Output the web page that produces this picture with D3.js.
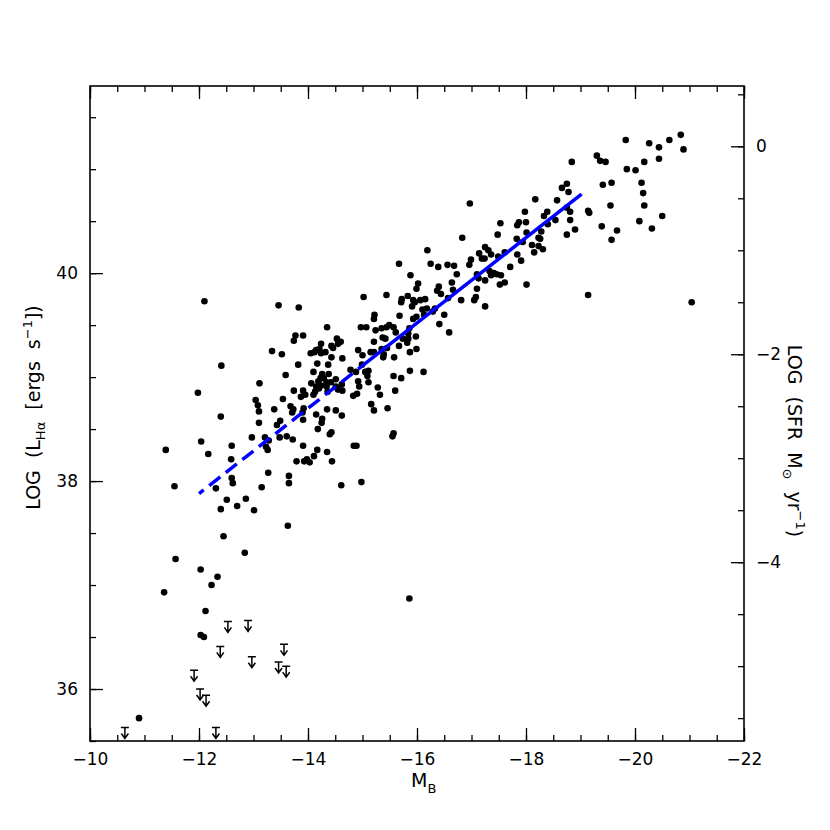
<!DOCTYPE html>
<html>
<head>
<meta charset="utf-8">
<script src="https://cdn.jsdelivr.net/npm/d3@7"></script>
<style>
    body { margin: 0; background: #fff; }
    #chart { width: 830px; height: 830px; }
    .axis text { font-family: "DejaVu Sans", sans-serif; font-size: 17px; fill: #000; }
    .axis line { stroke: #000; stroke-width: 1.3px; }
    .axis path { display: none; }
    .title { font-family: "DejaVu Sans", sans-serif; font-size: 19px; fill: #000; }
</style>
</head>
<body>
<div id="chart"></div>
<script>

// absolute B magnitude of each galaxy
const magB = [
    -19.83, -20.26, -20.44, -20.63, -20.84, -20.89, -20.44, -20.17, -19.85, -20.01,
    -19.30, -19.36, -19.46, -18.84, -20.12, -20.15, -20.17, -20.50, -20.08, -20.31,
    -19.57, -19.41, -19.55, -19.14, -19.16, -19.39, -19.67, -19.57, -18.75, -18.66,
    -18.78, -18.81, -18.81, -18.90, -18.75, -19.14, -21.04, -18.75, -18.57, -18.17,
    -16.97, -18.39, -18.33, -18.54, -18.40, -17.98, -18.00, -17.87, -17.84, -17.53,
    -18.28, -18.23, -18.26, -18.01, -17.83, -17.94, -17.48, -16.83, -18.11, -18.23,
    -18.31, -18.15, -17.84, -17.91, -17.61, -17.49, -17.25, -17.31, -17.36, -17.14,
    -17.19, -17.24, -16.99, -16.96, -17.71, -16.19, -16.25, -16.39, -16.56, -16.68,
    -16.73, -17.10, -17.13, -17.33, -17.36, -17.41, -17.46, -17.54, -17.25, -17.61,
    -17.52, -18.01, -17.10, -16.64, -16.66, -16.40, -16.37, -16.44, -16.57, -16.81,
    -17.08, -17.05, -17.25, -16.15, -16.18, -16.33, -16.29, -16.50, -16.41, -16.02,
    -15.99, -15.67, -15.88, -15.44, -15.02, -15.83, -15.72, -15.71, -15.93, -15.96,
    -16.06, -15.91, -16.10, -16.13, -16.59, -15.68, -15.93, -15.99, -15.22, -15.21,
    -15.49, -15.44, -15.57, -15.61, -15.35, -15.24, -14.97, -15.07, -14.35, -15.86,
    -15.84, -15.98, -15.84, -15.74, -15.82, -15.99, -15.87, -15.67, -15.58, -15.21,
    -15.37, -15.42, -15.45, -15.35, -15.21, -15.15, -15.38, -15.39, -14.92, -15.00,
    -14.53, -14.60, -14.55, -14.43, -14.46, -13.77, -13.91, -13.74, -13.46, -13.83,
    -13.34, -13.52, -14.24, -14.21, -14.15, -14.05, -14.12, -14.32, -14.24, -14.43,
    -14.63, -13.82, -14.17, -14.37, -13.59, -14.10, -14.26, -14.23, -14.38, -14.29,
    -14.42, -14.51, -14.19, -14.34, -14.06, -14.15, -14.24, -14.34, -14.20, -14.36,
    -14.13, -14.10, -14.51, -14.62, -14.55, -14.63, -14.78, -14.88, -14.99, -15.05,
    -15.11, -15.09, -15.11, -14.92, -14.94, -14.90, -14.83, -15.32, -15.16, -15.21,
    -15.46, -15.57, -15.71, -15.87, -16.12, -15.60, -13.74, -13.91, -13.95, -13.87,
    -13.54, -13.11, -13.04, -13.08, -13.10, -13.38, -13.68, -13.73, -13.71, -13.92,
    -13.90, -14.15, -14.26, -14.35, -14.51, -14.62, -13.10, -13.43, -13.49, -13.91,
    -14.25, -14.18, -15.28, -15.57, -15.55, -14.84, -14.89, -14.44, -14.61, -14.98,
    -14.40, -14.43, -11.98, -12.40, -12.04, -11.39, -12.17, -12.60, -12.59, -11.55,
    -12.31, -12.60, -12.62, -12.51, -12.40, -12.70, -12.86, -13.01, -13.15, -13.27,
    -12.97, -13.21, -13.28, -13.23, -13.26, -13.48, -13.61, -13.72, -13.91, -13.79,
    -13.93, -13.98, -14.03, -14.11, -14.17, -14.35, -13.65, -13.65, -13.63, -12.45,
    -12.84, -11.57, -12.03, -12.34, -12.10, -12.41, -12.23, -11.36, -12.12, -12.03,
    -12.09, -10.90, -15.86
];

// log H-alpha luminosity (ergs/s), same order as magB
const logLha = [
    41.28, 41.25, 41.21, 41.28, 41.33, 41.19, 41.10, 41.07, 41.00, 40.99,
    41.13, 41.08, 41.07, 41.07, 40.87, 40.77, 40.65, 40.55, 40.50, 40.43,
    40.87, 40.85, 40.65, 40.60, 40.58, 40.45, 40.41, 40.32, 40.86, 40.82,
    40.78, 40.59, 40.51, 40.42, 40.37, 39.79, 39.72, 40.63, 40.70, 40.71,
    40.67, 40.59, 40.55, 40.51, 40.47, 40.59, 40.49, 40.49, 40.46, 40.48,
    40.40, 40.34, 40.33, 40.39, 40.33, 40.30, 40.37, 40.34, 40.27, 40.26,
    40.23, 40.20, 40.18, 40.12, 40.20, 40.16, 40.25, 40.22, 40.18, 40.19,
    40.14, 40.14, 40.13, 40.08, 40.06, 40.22, 40.09, 40.06, 40.08, 40.07,
    39.99, 39.99, 39.95, 40.02, 39.98, 40.00, 39.99, 39.98, 39.93, 39.91,
    39.89, 39.89, 39.85, 39.91, 39.84, 39.87, 39.83, 39.80, 39.76, 39.74,
    39.77, 39.74, 39.68, 39.75, 39.66, 39.66, 39.63, 39.60, 39.51, 39.90,
    39.85, 40.09, 39.98, 39.79, 39.77, 39.78, 39.75, 39.72, 39.74, 39.72,
    39.74, 39.68, 39.65, 39.60, 39.43, 39.59, 39.56, 39.58, 39.60, 39.56,
    39.50, 39.48, 39.48, 39.43, 39.47, 39.45, 39.48, 39.48, 39.48, 39.47,
    39.42, 39.39, 39.37, 39.37, 39.33, 39.27, 39.24, 39.30, 39.19, 39.34,
    39.38, 39.37, 39.28, 39.27, 39.24, 39.24, 39.19, 39.22, 39.26, 39.21,
    39.37, 39.34, 39.32, 39.30, 39.28, 39.40, 39.40, 39.35, 39.69, 39.67,
    39.25, 39.22, 39.32, 39.27, 39.26, 39.23, 39.24, 39.24, 39.23, 39.19,
    39.18, 39.12, 39.13, 39.12, 39.02, 39.05, 39.03, 38.99, 39.03, 38.99,
    38.95, 38.98, 38.96, 38.95, 38.94, 38.91, 38.92, 38.91, 38.89, 38.86,
    38.86, 38.83, 38.91, 38.93, 38.88, 38.87, 39.07, 39.05, 39.12, 39.05,
    39.06, 39.01, 38.95, 38.96, 38.91, 38.84, 38.82, 38.83, 38.74, 38.68,
    38.70, 39.01, 38.99, 39.06, 39.05, 38.87, 38.87, 38.87, 38.83, 38.81,
    38.79, 38.94, 38.78, 38.73, 38.67, 38.69, 38.72, 38.69, 38.66, 38.70,
    38.66, 38.64, 38.60, 38.69, 38.68, 38.63, 38.56, 38.54, 38.58, 38.59,
    38.56, 38.50, 38.90, 38.46, 38.43, 38.34, 38.34, 38.19, 37.96, 37.99,
    38.45, 38.47, 38.85, 38.62, 38.38, 38.30, 38.26, 38.34, 38.21, 37.95,
    37.93, 38.03, 37.98, 37.82, 37.73, 37.76, 37.83, 37.72, 37.94, 38.08,
    38.42, 38.42, 38.39, 38.33, 38.30, 38.42, 38.43, 38.40, 38.34, 38.19,
    38.19, 38.21, 38.18, 38.24, 38.30, 38.28, 38.05, 37.98, 37.57, 37.47,
    37.31, 37.25, 37.15, 37.08, 39.73, 39.11, 37.00, 36.93, 36.75, 36.52,
    36.50, 35.72, 36.87
];

// upper limits (non-detections)
const limitMagB = [-12.53, -12.90, -12.39, -13.56, -12.97, -13.46, -13.60, -11.91, -12.02, -12.13, -10.64, -12.31];
const limitLogL = [36.65, 36.66, 36.41, 36.43, 36.31, 36.26, 36.22, 36.18, 36.00, 35.94, 35.63, 35.63];

// fitted relation: dashed part then solid part
const fitMagB = [-12, -15, -19.02];
const fitLogL = [37.88, 39.11, 40.76];

// tick labels
const xMajorTicks = [-10, -12, -14, -16, -18, -20, -22];
const yMajorTicks = [36, 38, 40];
const sfrMajorTicks = [0, -2, -4];

// log SFR = log L(Halpha) - sfrOffset
const sfrOffset = 41.22;


class ScatterVis {

    constructor(parentElement) {
        this.parentElement = parentElement;
        this.initVis();
    }

    initVis() {
        let vis = this;

        vis.margin = {top: 86, right: 86, bottom: 89, left: 90};
        vis.width = 830 - vis.margin.left - vis.margin.right;
        vis.height = 830 - vis.margin.top - vis.margin.bottom;

        vis.svg = d3.select("#" + vis.parentElement).append("svg")
            .attr("width", 830)
            .attr("height", 830)
            .append("g")
            .attr("transform", `translate(${vis.margin.left}, ${vis.margin.top})`);

        vis.x = d3.scaleLinear().domain([-10, -22]).range([0, vis.width]);
        vis.y = d3.scaleLinear().domain([35.5, 41.8]).range([vis.height, 0]);
        vis.ySfr = d3.scaleLinear()
            .domain([35.5 - sfrOffset, 41.8 - sfrOffset])
            .range([vis.height, 0]);

        vis.drawAxes();
        vis.drawTitles();
        vis.drawData();
    }

    drawAxes() {
        let vis = this;

        let fmt = d3.format("d");
        let xMinor = d3.range(-10, -22.01, -0.5);
        let yMinor = d3.range(35.5, 41.81, 0.5);
        let sfrMinor = d3.range(-5.5, 0.51, 0.5);

        // bottom
        vis.svg.append("g").attr("class", "axis")
            .attr("transform", `translate(0, ${vis.height})`)
            .call(d3.axisBottom(vis.x).tickValues(xMinor).tickSize(-6).tickFormat(""));
        vis.svg.append("g").attr("class", "axis")
            .attr("transform", `translate(0, ${vis.height})`)
            .call(d3.axisBottom(vis.x).tickValues(xMajorTicks).tickSize(-13).tickPadding(12).tickFormat(fmt));

        // top
        vis.svg.append("g").attr("class", "axis")
            .call(d3.axisTop(vis.x).tickValues(xMinor).tickSize(-6).tickFormat(""));
        vis.svg.append("g").attr("class", "axis")
            .call(d3.axisTop(vis.x).tickValues(xMajorTicks).tickSize(-13).tickFormat(""));

        // left
        vis.svg.append("g").attr("class", "axis")
            .call(d3.axisLeft(vis.y).tickValues(yMinor).tickSize(-6).tickFormat(""));
        vis.svg.append("g").attr("class", "axis")
            .call(d3.axisLeft(vis.y).tickValues(yMajorTicks).tickSize(-13).tickPadding(12).tickFormat(fmt));

        // right (SFR)
        vis.svg.append("g").attr("class", "axis")
            .attr("transform", `translate(${vis.width}, 0)`)
            .call(d3.axisRight(vis.ySfr).tickValues(sfrMinor).tickSize(-6).tickFormat(""));
        vis.svg.append("g").attr("class", "axis")
            .attr("transform", `translate(${vis.width}, 0)`)
            .call(d3.axisRight(vis.ySfr).tickValues(sfrMajorTicks).tickSize(-13).tickPadding(12).tickFormat(fmt));

        // frame
        vis.svg.append("rect")
            .attr("width", vis.width)
            .attr("height", vis.height)
            .attr("fill", "none")
            .attr("stroke", "#000")
            .attr("stroke-width", 1.6);
    }

    drawTitles() {
        let vis = this;

        let xTitle = vis.svg.append("text").attr("class", "title")
            .attr("x", 321)
            .attr("y", vis.height + 46);
        xTitle.append("tspan").text("M");
        xTitle.append("tspan").attr("font-size", 13).attr("dy", 6).text("B");

        let yTitle = vis.svg.append("text").attr("class", "title")
            .attr("text-anchor", "middle")
            .attr("word-spacing", 6)
            .attr("transform", `translate(-50, ${vis.height / 2 - 6}) rotate(-90)`);
        yTitle.append("tspan").text("LOG (L");
        yTitle.append("tspan").attr("font-size", 13).attr("dy", 5).text("Hα");
        yTitle.append("tspan").attr("dy", -5).text(" [ergs s");
        yTitle.append("tspan").attr("font-size", 13).attr("dy", -8).text("−1");
        yTitle.append("tspan").attr("dy", 8).text("])");

        let sfrTitle = vis.svg.append("text").attr("class", "title")
            .attr("text-anchor", "middle")
            .attr("word-spacing", 6)
            .attr("transform", `translate(${vis.width + 44}, ${355}) rotate(90)`);
        sfrTitle.append("tspan").text("LOG (SFR M");
        sfrTitle.append("tspan").attr("font-size", 13).attr("dy", 5).text("⊙");
        sfrTitle.append("tspan").attr("dy", -5).text(" yr");
        sfrTitle.append("tspan").attr("font-size", 13).attr("dy", -8).text("−1");
        sfrTitle.append("tspan").attr("dy", 8).text(")");
    }

    drawData() {
        let vis = this;

        let points = magB.map((m, i) => ({m: m, l: logLha[i]}));
        let limits = limitMagB.map((m, i) => ({m: m, l: limitLogL[i]}));

        vis.svg.selectAll(".dot")
            .data(points)
            .enter().append("circle")
            .attr("class", "dot")
            .attr("cx", d => vis.x(d.m))
            .attr("cy", d => vis.y(d.l))
            .attr("r", 3.3)
            .attr("fill", "#000");

        // upper-limit arrows: bar on top, arrow pointing down
        vis.svg.selectAll(".limit")
            .data(limits)
            .enter().append("path")
            .attr("class", "limit")
            .attr("transform", d => `translate(${vis.x(d.m)}, ${vis.y(d.l)})`)
            .attr("d", "M-4,0H4M0,0V11M-3.5,6L0,11L3.5,6")
            .attr("fill", "none")
            .attr("stroke", "#000")
            .attr("stroke-width", 1.5);

        let line = d3.line()
            .x(d => vis.x(d.m))
            .y(d => vis.y(d.l));

        let fit = fitMagB.map((m, i) => ({m: m, l: fitLogL[i]}));

        vis.svg.append("path")
            .datum(fit.slice(0, 2))
            .attr("d", line)
            .attr("fill", "none")
            .attr("stroke", "#0000ff")
            .attr("stroke-width", 3.5)
            .attr("stroke-dasharray", "14,7")
            .attr("stroke-dashoffset", 8);

        vis.svg.append("path")
            .datum(fit.slice(1))
            .attr("d", line)
            .attr("fill", "none")
            .attr("stroke", "#0000ff")
            .attr("stroke-width", 3.5);
    }
}

new ScatterVis("chart");

</script>
</body>
</html>
